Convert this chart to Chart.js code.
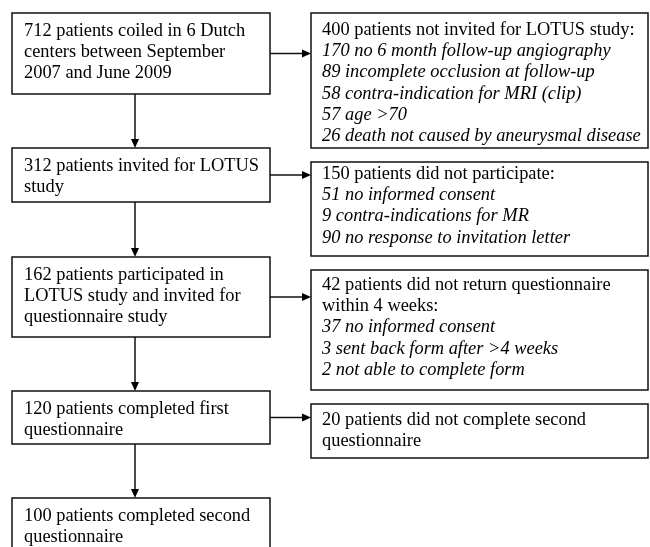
<!DOCTYPE html>
<html>
<head>
<meta charset="utf-8">
<script src="https://cdn.jsdelivr.net/npm/chart.js@4.4.1/dist/chart.umd.min.js"></script>
<style>
  html, body { margin: 0; padding: 0; background: #fff; }
  #wrap { width: 650px; height: 547px; }
</style>
</head>
<body>
<div id="wrap"><canvas id="flow" width="650" height="547"></canvas></div>
<script>
// Основные шаги (левая колонка)
const mainLines = [
    ['712 patients coiled in 6 Dutch', 'centers between September', '2007 and June 2009'],
    ['312 patients invited for LOTUS', 'study'],
    ['162 patients participated in', 'LOTUS study and invited for', 'questionnaire study'],
    ['120 patients completed first', 'questionnaire'],
    ['100 patients completed second', 'questionnaire']
];

// Исключённые (правая колонка): заголовок обычным шрифтом, причины курсивом
const exclHead = [
    ['400 patients not invited for LOTUS study:'],
    ['150 patients did not participate:'],
    ['42 patients did not return questionnaire', 'within 4 weeks:'],
    ['20 patients did not complete second', 'questionnaire']
];
const exclReasons = [
    ['170 no 6 month follow-up angiography', '89 incomplete occlusion at follow-up',
     '58 contra-indication for MRI (clip)', '57 age >70', '26 death not caused by aneurysmal disease'],
    ['51 no informed consent', '9 contra-indications for MR', '90 no response to invitation letter'],
    ['37 no informed consent', '3 sent back form after >4 weeks', '2 not able to complete form'],
    []
];

// Раскладка в единицах осей (x: 0..650, y: 0..547 сверху вниз)
const leftX = [12, 270];
const rightX = [311, 648];
const downX = 135;                      // вертикальные стрелки
const leftY = [[13, 94], [148, 202], [257, 337], [391, 444], [498, 570]];
const rightY = [[13, 148], [162, 256], [270, 390], [404, 458]];
const rightFirst = [17, 12, 15, 16];    // отступ первой строки сверху
const lineH = 21.3;

const FONT = '"Liberation Serif", "Times New Roman", serif';
const SIZE = 18.4;

const flowPlugin = {
    id: 'flow',
    afterDatasetsDraw(chart) {
        const ctx = chart.ctx;
        const xs = chart.scales.x, ys = chart.scales.y;
        const px = v => xs.getPixelForValue(v);
        const py = v => ys.getPixelForValue(v);

        ctx.save();
        ctx.strokeStyle = '#111';
        ctx.fillStyle = '#000';
        ctx.textBaseline = 'middle';

        function box(x0, x1, y0, y1, lines, padX, first) {
            ctx.lineWidth = 1.5;
            ctx.strokeRect(px(x0), py(y0), px(x1) - px(x0), py(y1) - py(y0));
            lines.forEach((l, i) => {
                ctx.font = (l.italic ? 'italic ' : '') + SIZE + 'px ' + FONT;
                ctx.fillText(l.text, px(x0) + padX, py(y0) + first + i * lineH);
            });
        }

        function arrow(x0, y0, x1, y1) {
            ctx.lineWidth = 1.5;
            const ax = px(x0), ay = py(y0), bx = px(x1), by = py(y1);
            const ang = Math.atan2(by - ay, bx - ax);
            const len = 9, w = 4;
            ctx.beginPath();
            ctx.moveTo(ax, ay);
            ctx.lineTo(bx - Math.cos(ang) * len, by - Math.sin(ang) * len);
            ctx.stroke();
            ctx.beginPath();
            ctx.moveTo(bx, by);
            ctx.lineTo(bx - Math.cos(ang) * len - Math.sin(ang) * w, by - Math.sin(ang) * len + Math.cos(ang) * w);
            ctx.lineTo(bx - Math.cos(ang) * len + Math.sin(ang) * w, by - Math.sin(ang) * len - Math.cos(ang) * w);
            ctx.closePath();
            ctx.fill();
        }

        mainLines.forEach((lines, i) => {
            const [y0, y1] = leftY[i];
            box(leftX[0], leftX[1], y0, y1, lines.map(t => ({ text: t })), 12, 18);
            if (i < mainLines.length - 1) {
                arrow(downX, y1, downX, leftY[i + 1][0]);
            }
        });

        exclHead.forEach((head, i) => {
            const [y0, y1] = rightY[i];
            const lines = head.map(t => ({ text: t }))
                .concat(exclReasons[i].map(t => ({ text: t, italic: true })));
            box(rightX[0], rightX[1], y0, y1, lines, 11, rightFirst[i]);
            const ay = (leftY[i][0] + leftY[i][1]) / 2;
            arrow(leftX[1], ay, rightX[0], ay);
        });

        ctx.restore();
    }
};

new Chart(document.getElementById('flow'), {
    type: 'scatter',
    data: { datasets: [{ data: [] }] },
    options: {
        responsive: false,
        animation: false,
        layout: { padding: 0 },
        plugins: { legend: { display: false }, tooltip: { enabled: false } },
        scales: {
            x: { type: 'linear', min: 0, max: 650, display: false },
            y: { type: 'linear', min: 0, max: 547, reverse: true, display: false }
        }
    },
    plugins: [flowPlugin]
});
</script>
</body>
</html>
